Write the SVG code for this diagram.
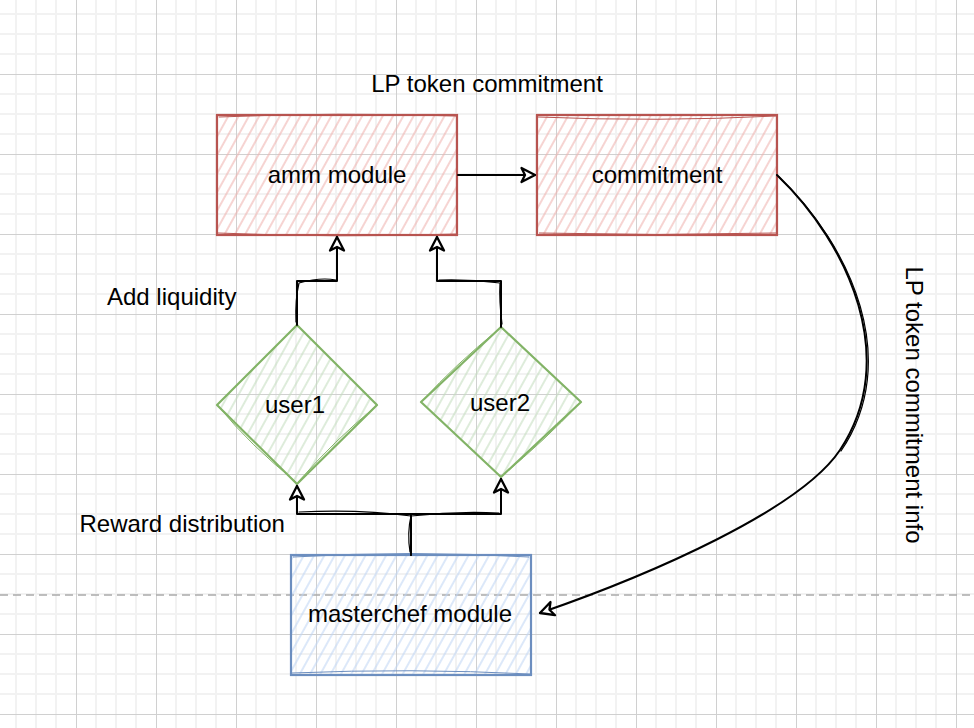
<svg xmlns="http://www.w3.org/2000/svg" width="974" height="728" viewBox="0 0 974 728">
<style>
.lbl{font-family:"Liberation Sans",Arial,Helvetica,sans-serif;font-size:24px;fill:#000}
.edge{fill:none;stroke:#000;stroke-width:2;stroke-linejoin:round;stroke-linecap:round}
.edge2{fill:none;stroke:#000;stroke-width:1.2;stroke-linejoin:round;stroke-linecap:round}
</style>
<defs>
<pattern id="grid" patternUnits="userSpaceOnUse" x="76" y="74" width="80" height="80">
<path d="M20,0V80M40,0V80M60,0V80M0,20H80M0,40H80M0,60H80" stroke="#f2f2f2" stroke-width="2" fill="none"/>
<path d="M0.5,0V80M0,0.5H80" stroke="#d0d0d0" stroke-width="1" fill="none"/>
</pattern>
<pattern id="hR" patternUnits="userSpaceOnUse" width="9" height="9" patternTransform="rotate(29)">
<line x1="4" y1="0" x2="4" y2="9" stroke="#efb0ac" stroke-width="1.1"/>
</pattern>
<pattern id="hG" patternUnits="userSpaceOnUse" width="9" height="9" patternTransform="rotate(29)">
<line x1="4" y1="0" x2="4" y2="9" stroke="#c3dcbd" stroke-width="1.1"/>
</pattern>
<pattern id="hB" patternUnits="userSpaceOnUse" width="9" height="9" patternTransform="rotate(29)">
<line x1="4" y1="0" x2="4" y2="9" stroke="#bfd5f4" stroke-width="1.1"/>
</pattern>
<marker id="arr" markerUnits="userSpaceOnUse" viewBox="0 0 18 18" refX="16" refY="9" markerWidth="18" markerHeight="18" orient="auto">
<path d="M2.5,2 L16,9 L2.5,16 L6,9 Z" fill="#fff" stroke="#000" stroke-width="2.3" stroke-linejoin="round"/>
</marker>
</defs>
<rect width="974" height="728" fill="#fff"/>
<rect width="974" height="728" fill="url(#grid)"/>
<line x1="0" y1="595" x2="974" y2="595" stroke="#ababab" stroke-width="1.5" stroke-dasharray="8 5"/>

<g id="amm">
<rect x="217" y="115" width="240" height="120" fill="url(#hR)" stroke="#b85450" stroke-width="2.2"/>
<path d="M219,117 Q337,112 456,116 M218,233 Q337,238 456,234" fill="none" stroke="#b85450" stroke-width="1"/>
<text class="lbl" x="337" y="183" text-anchor="middle">amm module</text>
</g>
<g id="commitment">
<rect x="537" y="115" width="240" height="120" fill="url(#hR)" stroke="#b85450" stroke-width="2.2"/>
<path d="M538,117 Q657,122 776,116 M539,233 Q657,236 776,233" fill="none" stroke="#b85450" stroke-width="1"/>
<text class="lbl" x="657" y="183" text-anchor="middle">commitment</text>
</g>
<g id="user1">
<path d="M297,325 L377,405 L297,484 L217,405 Z" fill="url(#hG)" stroke="#82b366" stroke-width="2.2" stroke-linejoin="round"/>
<path d="M219,407 Q250,445 296,482 M375,407 Q335,440 298,482" fill="none" stroke="#82b366" stroke-width="1"/>
<text class="lbl" x="295" y="413" text-anchor="middle">user1</text>
</g>
<g id="user2">
<path d="M501,327 L581,402 L501,477 L421,402 Z" fill="url(#hG)" stroke="#82b366" stroke-width="2.2" stroke-linejoin="round"/>
<path d="M423,400 Q455,365 499,329 M579,404 Q545,440 503,475" fill="none" stroke="#82b366" stroke-width="1"/>
<text class="lbl" x="500" y="411" text-anchor="middle">user2</text>
</g>
<g id="masterchef">
<rect x="291" y="555" width="240" height="120" fill="url(#hB)" stroke="#6c8ebf" stroke-width="2.2"/>
<path d="M293,557 Q411,550 529,557 M292,673 Q411,668 530,674" fill="none" stroke="#6c8ebf" stroke-width="1"/>
<text class="lbl" x="410" y="622" text-anchor="middle">masterchef module</text>
</g>

<g id="connectors">
<path class="edge" d="M458,175 L535,175" marker-end="url(#arr)"/>
<path class="edge" d="M297,325 L297,281 L337,281 L337,237" marker-end="url(#arr)"/>
<path class="edge2" d="M296,322 Q295,300 299,283 Q320,277 336,280"/>
<path class="edge" d="M501,327 L501,281 L437,281 L437,237" marker-end="url(#arr)"/>
<path class="edge2" d="M502,324 Q499,300 500,283 Q470,279 439,280"/>
<path class="edge" d="M411,555 L411,514 L297,514 L297,486" marker-end="url(#arr)"/>
<path class="edge" d="M411,555 L411,514 L501,514 L501,479" marker-end="url(#arr)"/>
<path class="edge2" d="M410,552 Q407,533 411,516 Q360,509 299,512 M411,516 Q455,511 499,513"/>
<path class="edge" d="M777,175 C850,245 900,360 840,450 C800,510 650,575 540,613" marker-end="url(#arr)"/>
<path class="edge2" d="M779,177 C852,247 902,361 841,451"/>
</g>

<g id="labels">
<text class="lbl" x="487" y="92" text-anchor="middle">LP token commitment</text>
<text class="lbl" x="107" y="305">Add liquidity</text>
<text class="lbl" x="79.5" y="532">Reward distribution</text>
<text class="lbl" transform="translate(906,405) rotate(90)" text-anchor="middle">LP token commitment info</text>
</g>
</svg>
